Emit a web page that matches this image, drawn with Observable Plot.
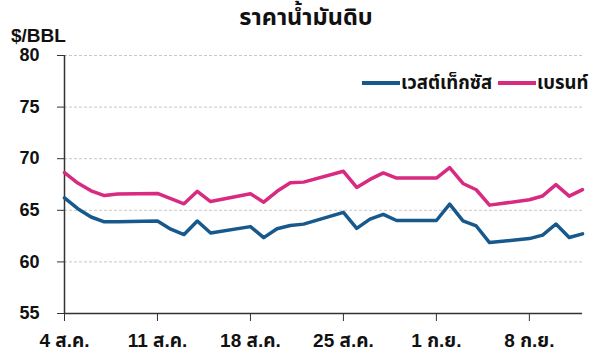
<!DOCTYPE html>
<html><head><meta charset="utf-8">
<script src="https://cdn.jsdelivr.net/npm/d3@7"></script>
<script src="https://cdn.jsdelivr.net/npm/@observablehq/plot@0.6"></script>
<style>
body{margin:0;background:#fff;font-family:"Liberation Sans",Arial,"Noto Sans Thai","Noto Sans",sans-serif;color:#111;}
#wrap{position:relative;width:600px;height:356px;overflow:hidden;}
#title{position:absolute;top:2px;left:0;width:612px;text-align:center;font-weight:bold;font-size:23.5px;line-height:30px;}
#unit{position:absolute;top:28px;left:11px;font-weight:bold;font-size:19px;line-height:16px;}
#legend{position:absolute;top:71px;left:362px;display:flex;align-items:center;font-weight:bold;font-size:18.5px;line-height:24px;white-space:nowrap;}
.sw{display:inline-block;width:38px;height:3.5px;margin-right:1px;}
.item{display:flex;align-items:center;margin-right:6px;}
#chart{position:absolute;top:0;left:0;}
</style></head>
<body>
<div id="wrap">
<div id="chart"></div>
<div id="title"></div>
<div id="unit"></div>
<div id="legend"></div>
</div>
<script>
const chartTitle = "ราคาน้ำมันดิบ";
const unitLabel = "$/BBL";
const dates = ["2025-08-04","2025-08-05","2025-08-06","2025-08-07","2025-08-08",
  "2025-08-11","2025-08-12","2025-08-13","2025-08-14","2025-08-15",
  "2025-08-18","2025-08-19","2025-08-20","2025-08-21","2025-08-22",
  "2025-08-25","2025-08-26","2025-08-27","2025-08-28","2025-08-29",
  "2025-09-01","2025-09-02","2025-09-03","2025-09-04","2025-09-05",
  "2025-09-08","2025-09-09","2025-09-10","2025-09-11","2025-09-12"];
const wti = [66.2,65.16,64.35,63.88,63.88,
  63.96,63.17,62.65,63.96,62.80,
  63.42,62.35,63.21,63.52,63.66,
  64.80,63.25,64.15,64.60,64.01,
  64.01,65.59,63.97,63.48,61.87,
  62.26,62.6,63.67,62.37,62.72];
const brent = [68.65,67.64,66.89,66.43,66.59,
  66.63,66.12,65.63,66.84,65.85,
  66.60,65.79,66.84,67.67,67.73,
  68.78,67.22,67.99,68.62,68.12,
  68.12,69.14,67.60,66.99,65.50,
  66.02,66.39,67.49,66.37,67.0];
const seriesNames = ["เวสต์เท็กซัส","เบรนท์"];
const seriesColors = ["#17598c","#d82a80"];
const yTicks = [55,60,65,70,75,80];
const xTickDates = ["2025-08-04","2025-08-11","2025-08-18","2025-08-25","2025-09-01","2025-09-08"];
const xTickLabels = ["4 ส.ค.","11 ส.ค.","18 ส.ค.","25 ส.ค.","1 ก.ย.","8 ก.ย."];

const parse = d3.utcParse("%Y-%m-%d");
const data = [];
dates.forEach((d,i)=>{
  data.push({date:parse(d), value:wti[i], series:seriesNames[0]});
  data.push({date:parse(d), value:brent[i], series:seriesNames[1]});
});
const tickDates = xTickDates.map(parse);
const labelOf = new Map(xTickDates.map((d,i)=>[+parse(d), xTickLabels[i]]));
const x0 = parse(dates[0]), x1 = parse(dates[dates.length-1]);

const chart = Plot.plot({
  width:600, height:356,
  marginTop:55, marginBottom:43, marginLeft:64, marginRight:18,
  style:{fontFamily:"'Liberation Sans', Arial, 'Noto Sans Thai', sans-serif", fontWeight:"bold", color:"#111", background:"transparent"},
  x:{type:"utc", domain:[x0,x1]},
  y:{domain:[55,80]},
  color:{domain:seriesNames, range:seriesColors},
  marks:[
    Plot.gridY(yTicks.filter(v=>v>55), {stroke:"#c8c8c8", strokeOpacity:1, strokeDasharray:"3,2"}),
    Plot.axisY({ticks:yTicks, tickSize:7, tickPadding:18, fontSize:18, stroke:"#333", label:null}),
    Plot.axisX({ticks:tickDates, tickFormat:d=>labelOf.get(+d), tickSize:8, tickPadding:12, fontSize:19, stroke:"#333", label:null}),
    Plot.ruleX([x0], {stroke:"#333", strokeWidth:1.5}),
    Plot.ruleY([55], {stroke:"#333", strokeWidth:1.5}),
    Plot.line(data, {x:"date", y:"value", z:"series", stroke:"series", strokeWidth:3.5, strokeLinejoin:"round"})
  ]
});
document.getElementById("chart").appendChild(chart);
document.getElementById("title").textContent = chartTitle;
document.getElementById("unit").textContent = unitLabel;
const lg = document.getElementById("legend");
seriesNames.forEach((n,i)=>{
  const it = document.createElement("span"); it.className="item";
  const sw = document.createElement("span"); sw.className="sw"; sw.style.background=seriesColors[i];
  const t = document.createElement("span"); t.textContent=n;
  it.appendChild(sw); it.appendChild(t); lg.appendChild(it);
});
</script>
</body></html>
